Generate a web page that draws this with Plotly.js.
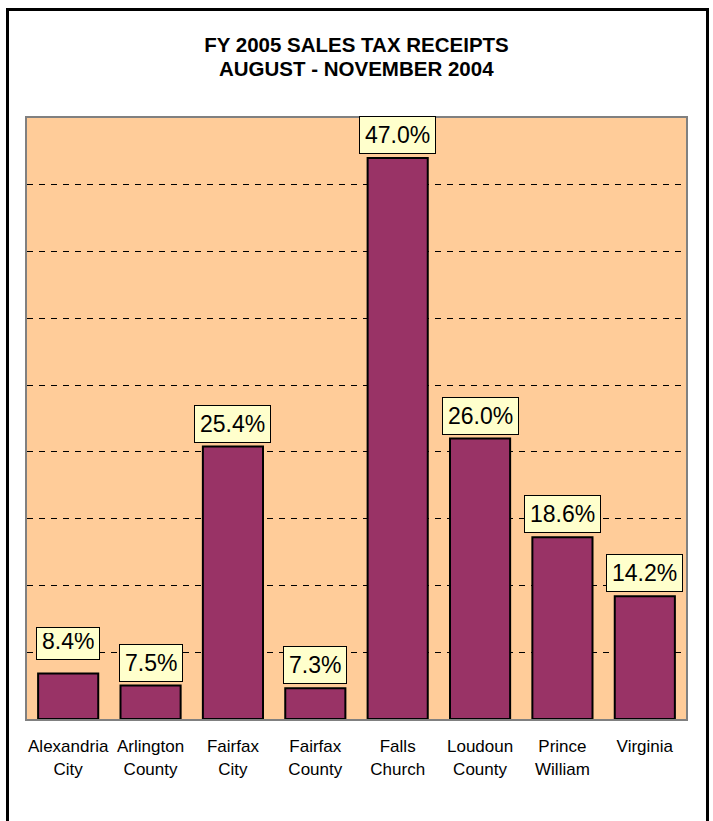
<!DOCTYPE html>
<html>
<head>
<meta charset="utf-8">
<script src="https://cdn.plot.ly/plotly-3.0.1.min.js"></script>
<style>
  html, body { margin: 0; padding: 0; background: #ffffff; }
  #wrap { position: relative; width: 713px; height: 821px; overflow: hidden; }
  #chart { width: 713px; height: 821px; }
  #frame { position: absolute; left: 6px; top: 8px; width: 697px; height: 840px;
           border: 3px solid #000; pointer-events: none; }
</style>
</head>
<body>
<div id="wrap">
  <div id="chart"></div>
  <div id="frame"></div>
</div>
<script>
const categories = ["Alexandria<br>City", "Arlington<br>County", "Fairfax<br>City", "Fairfax<br>County",
                    "Falls<br>Church", "Loudoun<br>County", "Prince<br>William", "Virginia"];
const values = [8.4, 7.5, 25.4, 7.3, 47.0, 26.0, 18.6, 14.2];
const labels = ["8.4%", "7.5%", "25.4%", "7.3%", "47.0%", "26.0%", "18.6%", "14.2%"];
const titleLine1 = "FY 2005 SALES TAX RECEIPTS";
const titleLine2 = "AUGUST - NOVEMBER 2004";

const font = "Arial, 'Liberation Sans', sans-serif";
const axisFloor = 5;

const trace = {
  type: "bar",
  x: categories,
  y: values.map(v => v - axisFloor),
  base: axisFloor,
  width: 0.73,
  marker: { color: "#993366", line: { color: "#000000", width: 2 } },
  hoverinfo: "none"
};

const plotTop = 118, plotBottom = 719;
const pyToPaper = py => (plotBottom - py) / (plotBottom - plotTop);

const annotations = categories.map((c, i) => {
  const a = {
    x: c, y: values[i], xref: "x", yref: "y",
    text: labels[i], showarrow: false,
    xanchor: "center", yanchor: "bottom", yshift: 4,
    bgcolor: "#FFFFCC", bordercolor: "#000000", borderwidth: 1, borderpad: 5,
    font: { family: font, size: 23, color: "#000000" }
  };
  if (i === 0) { // first label box sits higher and is shorter in the original
    a.height = 21; a.yshift = 14; a.valign = "bottom";
  }
  return a;
});
annotations.push({
  xref: "paper", yref: "paper", x: 0.5, y: pyToPaper(68),
  xanchor: "center", yanchor: "middle", showarrow: false,
  text: "<b>" + titleLine2 + "</b>",
  font: { family: font, size: 20.5, color: "#000" }
});

const layout = {
  width: 713, height: 821,
  paper_bgcolor: "#ffffff",
  plot_bgcolor: "#FFCC99",
  margin: { l: 27, r: 27, t: plotTop, b: 821 - plotBottom },
  showlegend: false,
  title: {
    text: "<b>" + titleLine1 + "</b>",
    x: 0.5, xanchor: "center", xref: "paper",
    y: 1 - 45/821, yref: "container", yanchor: "middle",
    font: { family: font, size: 20.5, color: "#000" }
  },
  xaxis: {
    type: "category",
    showgrid: false, zeroline: false,
    showline: true, linecolor: "#808080", linewidth: 2, mirror: true,
    ticks: "", ticklabelstandoff: 11,
    tickfont: { family: font, size: 17, color: "#000" }
  },
  yaxis: {
    range: [5, 50], dtick: 5, tick0: 5,
    showticklabels: false, ticks: "",
    showgrid: true, gridcolor: "#000000", gridwidth: 1, griddash: "6px,6px",
    zeroline: false,
    showline: true, linecolor: "#808080", linewidth: 2, mirror: true
  },
  annotations: annotations
};

Plotly.newPlot("chart", [trace], layout, { staticPlot: true, displayModeBar: false });
</script>
</body>
</html>
